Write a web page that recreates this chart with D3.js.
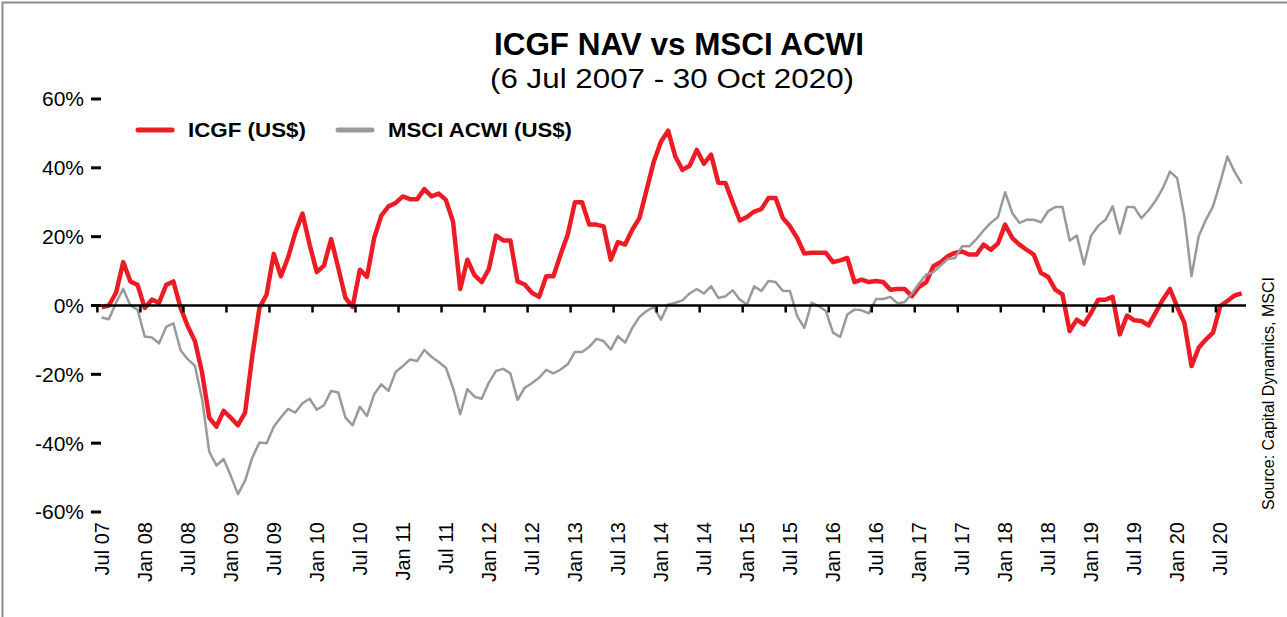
<!DOCTYPE html>
<html>
<head>
<meta charset="utf-8">
<script src="https://cdn.jsdelivr.net/npm/d3@7"></script>
<style>
  body { margin: 0; background: #fff; }
  svg { display: block; }
  text { font-family: "Liberation Sans", Arial, sans-serif; fill: #000; }
  .narrow { font-family: "Liberation Sans Narrow", "Arial Narrow", "Liberation Sans", Arial, sans-serif; }
</style>
</head>
<body>
<svg width="1287" height="617"></svg>
<script>
// monthly values, Jul 07 .. Oct 20 (cumulative return, %)
var icgf = [
  -0.5, 0, 3.7, 12.6, 7, 6, -0.7, 1.7, 0.8, 6, 7, -0.7,
  -6, -10.3, -19.5, -32.6, -35.2, -30.6, -32.6, -34.8, -31.1, -14.7, -0.7, 3.2,
  15, 8.5, 14, 21.1, 26.7, 17.7, 9.7, 11.6, 19.3, 10.9, 2.2, -0.4,
  10.4, 8.3, 19.6, 26.1, 28.8, 29.8, 31.7, 30.9, 30.9, 33.8, 31.7, 32.5,
  30.7, 24.4, 4.8, 13.3, 8.8, 6.8, 10.6, 20.3, 18.9, 18.9, 7, 6.1,
  3.7, 2.5, 8.5, 8.5, 14.8, 20.6, 30, 30, 23.5, 23.5, 23, 13.3,
  18.4, 17.7, 22, 25.4, 33.6, 41.8, 47.6, 50.8, 43.3, 39.4, 40.6, 45.2,
  41.2, 43.8, 35.7, 35.6, 30, 24.7, 25.7, 27.3, 28, 31.2, 31.2, 25.4,
  23, 19.6, 15.1, 15.3, 15.3, 15.3, 12.6, 13.1, 13.8, 6.8, 7.5, 6.8,
  7.1, 6.8, 4.6, 4.8, 4.8, 2.7, 5.4, 6.8, 11.4, 12.6, 14.3, 15.3,
  15.7, 14.8, 14.8, 17.7, 16.2, 18, 23.5, 19.6, 17.7, 16.2, 14.8, 9.5,
  8.3, 4.6, 3.2, -7.4, -4.1, -5.5, -2.1, 1.7, 1.7, 2.5, -8.4, -2.9,
  -4.3, -4.5, -5.8, -2.1, 1.7, 4.8, -0.4, -5, -17.6, -12.3, -9.9, -7.9,
  -0.2, 1.3, 2.9, 3.5
];
var msci = [
  -3.5, -4, 0.8, 4.8, 0, -1.2, -9, -9.3, -11, -6.2, -5.2, -13,
  -15.6, -17.5, -27.2, -42.5, -46.5, -44.6, -49.5, -54.8, -50.9, -44.2, -39.8, -40,
  -35.2, -32.5, -30, -31.1, -28.4, -27.1, -30.3, -29, -24.8, -25.3, -32.6, -34.8,
  -29.4, -32.1, -25.8, -22.9, -24.8, -19.3, -17.6, -15.7, -16.1, -12.9, -14.9, -16.4,
  -18.1, -23.9, -31.6, -24.3, -26.5, -27.1, -22.4, -19, -18.4, -19.7, -27.4, -23.9,
  -22.6, -21, -18.7, -19.7, -18.6, -17.1, -13.5, -13.5, -12, -9.7, -10.3, -12.8,
  -8.9, -10.8, -6.5, -3.3, -1.6, -0.4, -4.1, 0.3, 0.8, 1.5, 3.5, 4.8,
  3.5, 5.6, 2.2, 2.7, 4.4, 1.7, 0.3, 5.6, 4.2, 7.1, 6.8, 4.2,
  4.2, -3.1, -6.5, 0.8, -0.2, -1.6, -7.9, -9.1, -2.6, -1.2, -1.4, -2.3,
  1.9, 1.9, 2.5, 0.6, 1, 3.5, 6.4, 9, 9.7, 11.6, 13.5, 13.8,
  17.2, 17.2, 19.3, 21.8, 24, 25.7, 32.9, 26.9, 24, 24.9, 24.9, 24.2,
  27.4, 28.6, 28.6, 18.9, 20.3, 11.9, 20.3, 23.2, 24.9, 28.8, 20.9, 28.6,
  28.6, 25.4, 27.6, 30.5, 34.1, 38.9, 37, 25.9, 8.5, 20.1, 24.9, 28.8,
  35.7, 43.3, 38.9, 35.4
];
var xLabels = [
  "Jul 07", "Jan 08", "Jul 08", "Jan 09", "Jul 09", "Jan 10", "Jul 10",
  "Jan 11", "Jul 11", "Jan 12", "Jul 12", "Jan 13", "Jul 13", "Jan 14",
  "Jul 14", "Jan 15", "Jul 15", "Jan 16", "Jul 16", "Jan 17", "Jul 17",
  "Jan 18", "Jul 18", "Jan 19", "Jul 19", "Jan 20", "Jul 20"
];
var yTicks = [60, 40, 20, 0, -20, -40, -60];
var seriesNames = ["ICGF (US$)", "MSCI ACWI (US$)"];

var svg = d3.select("svg"),
    width = +svg.attr("width"),
    height = +svg.attr("height");

var x = d3.scaleLinear().domain([0, icgf.length - 1]).range([101.7, 1241.7]);
var y = d3.scaleLinear().domain([-60, 60]).range([512, 99]);

// frame
svg.append("path")
    .attr("d", "M2.5," + height + "V2.5H" + width)
    .attr("fill", "none")
    .attr("stroke", "#8c8c8c")
    .attr("stroke-width", 2);

// title
svg.append("text")
    .attr("class", "narrow")
    .attr("x", 679).attr("y", 55)
    .attr("text-anchor", "middle")
    .attr("font-size", 31).attr("font-weight", "bold")
    .attr("textLength", 370).attr("lengthAdjust", "spacingAndGlyphs")
    .text("ICGF NAV vs MSCI ACWI");
svg.append("text")
    .attr("class", "narrow")
    .attr("x", 672).attr("y", 88)
    .attr("text-anchor", "middle")
    .attr("font-size", 27)
    .attr("textLength", 364).attr("lengthAdjust", "spacingAndGlyphs")
    .text("(6 Jul 2007 - 30 Oct 2020)");

// y axis labels and dashes
var yAxis = svg.append("g");
yTicks.forEach(function(t) {
  yAxis.append("text")
      .attr("class", "narrow")
      .attr("x", 84).attr("y", y(t))
      .attr("dy", "0.35em")
      .attr("text-anchor", "end")
      .attr("font-size", 21)
      .text(t + "%");
  yAxis.append("line")
      .attr("x1", 91).attr("x2", 101)
      .attr("y1", y(t)).attr("y2", y(t))
      .attr("stroke", "#000").attr("stroke-width", 3);
});

// lines
var line = d3.line()
    .x(function(d, i) { return x(i); })
    .y(function(d) { return y(d); });

svg.append("path")
    .datum(icgf)
    .attr("d", line)
    .attr("fill", "none")
    .attr("stroke", "#ed1c24")
    .attr("stroke-width", 4.5)
    .attr("stroke-linejoin", "round");

svg.append("path")
    .datum(msci)
    .attr("d", line)
    .attr("fill", "none")
    .attr("stroke", "#9a9a9a")
    .attr("stroke-width", 2.5)
    .attr("stroke-linejoin", "round");

// zero axis with half-year ticks
var xAxis = svg.append("g");
xAxis.append("line")
    .attr("x1", x(-1.2)).attr("x2", x(159.6))
    .attr("y1", y(0)).attr("y2", y(0))
    .attr("stroke", "#000").attr("stroke-width", 2.5);

xLabels.forEach(function(lab, k) {
  var tx = x(6 * k - 0.6);
  xAxis.append("line")
      .attr("x1", tx).attr("x2", tx)
      .attr("y1", y(0)).attr("y2", y(0) + 7)
      .attr("stroke", "#000").attr("stroke-width", 2.5);
  xAxis.append("text")
      .attr("transform", "translate(" + x(6 * k) + ",522) rotate(-90)")
      .attr("dy", "0.35em")
      .attr("text-anchor", "end")
      .attr("font-size", 20)
      .text(lab);
});

// legend
var legend = svg.append("g");
var legendX = [138, 338];
var legendColor = ["#ed1c24", "#9a9a9a"];
var legendWidth = [118, 184];
seriesNames.forEach(function(name, i) {
  legend.append("line")
      .attr("x1", legendX[i]).attr("x2", legendX[i] + 34)
      .attr("y1", 130).attr("y2", 130)
      .attr("stroke", legendColor[i])
      .attr("stroke-width", 5)
      .attr("stroke-linecap", "round");
  legend.append("text")
      .attr("x", legendX[i] + 50).attr("y", 130)
      .attr("dy", "0.36em")
      .attr("font-size", 20).attr("font-weight", "bold")
      .attr("textLength", legendWidth[i]).attr("lengthAdjust", "spacingAndGlyphs")
      .text(name);
});

// source note
svg.append("text")
    .attr("transform", "translate(1268,510) rotate(-90)")
    .attr("dy", "0.35em")
    .attr("font-size", 16)
    .text("Source: Capital Dynamics, MSCI");
</script>
</body>
</html>
